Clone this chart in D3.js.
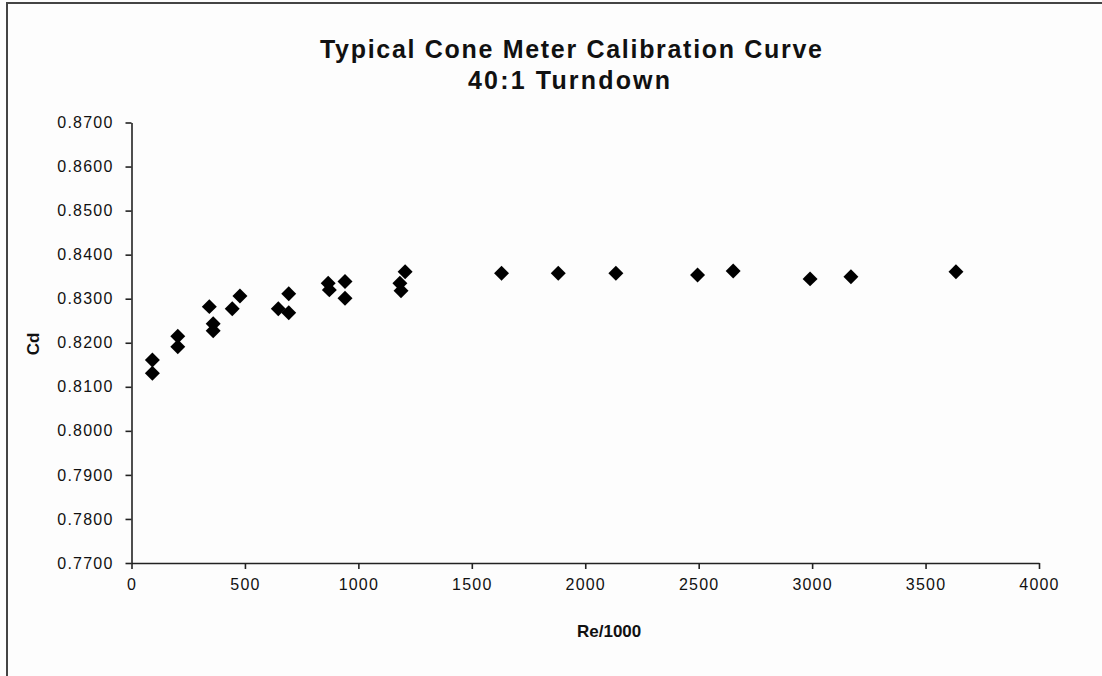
<!DOCTYPE html>
<html>
<head>
<meta charset="utf-8">
<script src="https://cdn.jsdelivr.net/npm/d3@7"></script>
<style>
  body { margin: 0; background: #fdfdfd; }
  text { font-family: Arial, "Liberation Sans", sans-serif; fill: #111; }
</style>
</head>
<body>
<div id="chart"></div>
<script>
// Data
const reValues = [92, 92, 204, 204, 343, 360, 360, 444, 478, 647, 693, 693,
  867, 872, 941, 941, 1183, 1188, 1206,
  1631, 1881, 2135, 2495, 2652, 2991, 3171, 3634];
const cdValues = [0.8161, 0.8131, 0.8215, 0.8191, 0.8282, 0.8243, 0.8227, 0.8277, 0.8306, 0.8277, 0.8311, 0.8268,
  0.8335, 0.8320, 0.8339, 0.8301, 0.8335, 0.8318, 0.8361,
  0.8358, 0.8358, 0.8358, 0.8354, 0.8363, 0.8345, 0.8350, 0.8361];
const xTicks = [0, 500, 1000, 1500, 2000, 2500, 3000, 3500, 4000];
const yTicks = [0.77, 0.78, 0.79, 0.80, 0.81, 0.82, 0.83, 0.84, 0.85, 0.86, 0.87];
const titleLines = ['Typical Cone Meter Calibration Curve', '40:1 Turndown'];

const width = 1102;
const height = 676;
const plot = { left: 131.5, right: 1039, top: 122.5, bottom: 563 };

const svg = d3.select('#chart')
  .append('svg')
  .attr('width', width)
  .attr('height', height);

// frame (only left and top edges are in view)
svg.append('path')
  .attr('d', `M7,${height} L7,3 L${width},3`)
  .attr('fill', 'none')
  .attr('stroke', '#444')
  .attr('stroke-width', 2);

const xScale = d3.scaleLinear().domain([0, 4000]).range([plot.left, plot.right]);
const yScale = d3.scaleLinear().domain([0.77, 0.87]).range([plot.bottom, plot.top]);

// x axis
const xAxis = svg.append('g')
  .attr('transform', `translate(0, ${plot.bottom})`)
  .call(d3.axisBottom(xScale).tickValues(xTicks).tickFormat(d3.format('d')).tickSize(6).tickPadding(5).tickSizeOuter(0));

// y axis
const yAxis = svg.append('g')
  .attr('transform', `translate(${plot.left}, 0)`)
  .call(d3.axisLeft(yScale).tickValues(yTicks).tickFormat(d3.format('.4f')).tickSize(6).tickPadding(12).tickSizeOuter(0));

[xAxis, yAxis].forEach((g) => {
  g.select('.domain').attr('stroke', '#222').attr('stroke-width', 1.6);
  g.selectAll('.tick line').attr('stroke', '#222').attr('stroke-width', 1.6);
  g.selectAll('.tick text')
    .style('font-size', '16px')
    .style('letter-spacing', '1.2px')
    .attr('fill', '#1a1040');
});
xAxis.selectAll('.tick text').attr('dy', '1em');

// title
svg.append('text')
  .attr('x', 571)
  .attr('y', 58)
  .attr('text-anchor', 'middle')
  .attr('textLength', 502)
  .attr('lengthAdjust', 'spacing')
  .style('font-size', '25px')
  .style('font-weight', 'bold')
  .text(titleLines[0]);

svg.append('text')
  .attr('x', 569)
  .attr('y', 89)
  .attr('text-anchor', 'middle')
  .attr('textLength', 202)
  .attr('lengthAdjust', 'spacing')
  .style('font-size', '25px')
  .style('font-weight', 'bold')
  .text(titleLines[1]);

// axis titles
svg.append('text')
  .attr('transform', 'translate(39, 344) rotate(-90)')
  .attr('text-anchor', 'middle')
  .style('font-size', '17px')
  .style('font-weight', 'bold')
  .text('Cd');

svg.append('text')
  .attr('x', 577)
  .attr('y', 637)
  .attr('text-anchor', 'start')
  .style('font-size', '17px')
  .style('font-weight', 'bold')
  .text('Re/1000');

// points
const data = reValues.map((re, i) => ({ re, cd: cdValues[i] }));
const diamond = d3.symbol().type(d3.symbolSquare).size(112);

svg.append('g')
  .selectAll('.dot')
  .data(data)
  .enter()
  .append('path')
  .attr('class', 'dot')
  .attr('d', diamond)
  .attr('transform', (d) => `translate(${xScale(d.re)}, ${yScale(d.cd)}) rotate(45)`)
  .attr('fill', '#000');
</script>
</body>
</html>
